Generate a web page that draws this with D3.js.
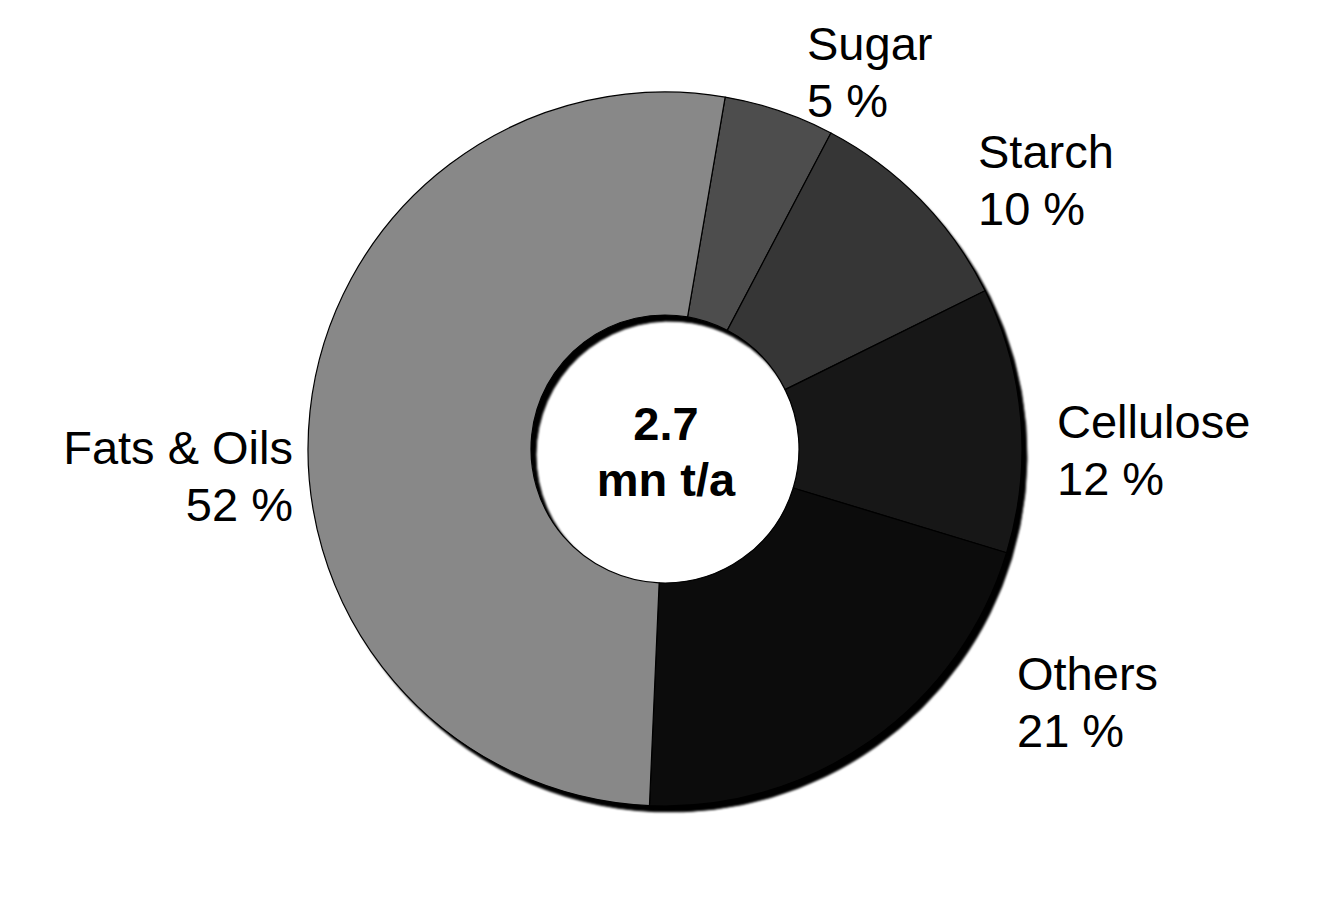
<!DOCTYPE html>
<html>
<head>
<meta charset="utf-8">
<script src="https://cdn.jsdelivr.net/npm/d3@7"></script>
<style>
  html, body { margin: 0; padding: 0; background: #fff; }
  svg { display: block; }
  text { font-family: "Liberation Sans", Arial, sans-serif; fill: #000; }
</style>
</head>
<body>
<svg id="chart" width="1334" height="900"></svg>
<script>
// ---- data ----
const categories = ["Sugar", "Starch", "Cellulose", "Others", "Fats & Oils"];
const shares = [5, 10, 12, 21, 52];
const percentLabels = ["5 %", "10 %", "12 %", "21 %", "52 %"];
const fills = ["#4d4d4d", "#363636", "#171717", "#0c0c0c", "#888888"];
const centerLines = ["2.7", "mn t/a"];

// ---- layout (label anchor offsets relative to the donut centre) ----
const labelLayout = [
  { dx: 142, dy: -389, anchor: "start" },
  { dx: 313, dy: -281, anchor: "start" },
  { dx: 392, dy: -11, anchor: "start" },
  { dx: 352, dy: 241, anchor: "start" },
  { dx: -372, dy: 15, anchor: "end" }
];

const W = 1334, H = 900;
const cx = 665, cy = 449;
const rOuter = 357, rInner = 134;
const startDeg = 9.7;
const fontSize = 47, lineGap = 57;

const svg = d3.select("#chart");

const defs = svg.append("defs");
const f = defs.append("filter").attr("id", "shadow")
  .attr("x", "-10%").attr("y", "-10%").attr("width", "120%").attr("height", "120%");
f.append("feGaussianBlur").attr("stdDeviation", 1.2);

const pie = d3.pie().sort(null).value(d => d)
  .startAngle(startDeg * Math.PI / 180)
  .endAngle(startDeg * Math.PI / 180 + 2 * Math.PI);
const arcs = pie(shares);
const arc = d3.arc().innerRadius(rInner).outerRadius(rOuter);

const g = svg.append("g").attr("transform", `translate(${cx},${cy})`);

// drop shadow of the ring
g.append("g").attr("transform", "translate(5,6)")
  .attr("filter", "url(#shadow)")
  .selectAll("path").data(arcs).join("path")
  .attr("d", arc)
  .attr("fill", "#000")
  .attr("stroke", "#000").attr("stroke-width", 1);

// slices
g.append("g").selectAll("path").data(arcs).join("path")
  .attr("d", arc)
  .attr("fill", (d, i) => fills[i])
  .attr("stroke", "#000")
  .attr("stroke-width", 1.2)
  .attr("stroke-linejoin", "round");

// centre text
g.append("text")
  .attr("text-anchor", "middle")
  .attr("font-weight", "bold")
  .attr("font-size", fontSize)
  .selectAll("tspan").data(centerLines).join("tspan")
  .attr("x", 1)
  .attr("y", (d, i) => -9 + i * 56)
  .text(d => d);

// labels
const lab = svg.append("g").selectAll("text").data(categories).join("text")
  .attr("text-anchor", (d, i) => labelLayout[i].anchor)
  .attr("font-size", fontSize)
  .attr("transform", (d, i) => `translate(${cx + labelLayout[i].dx},${cy + labelLayout[i].dy})`);
lab.append("tspan").attr("x", 0).attr("y", 0).text(d => d);
lab.append("tspan").attr("x", 0).attr("y", lineGap).text((d, i) => percentLabels[i]);
</script>
</body>
</html>
